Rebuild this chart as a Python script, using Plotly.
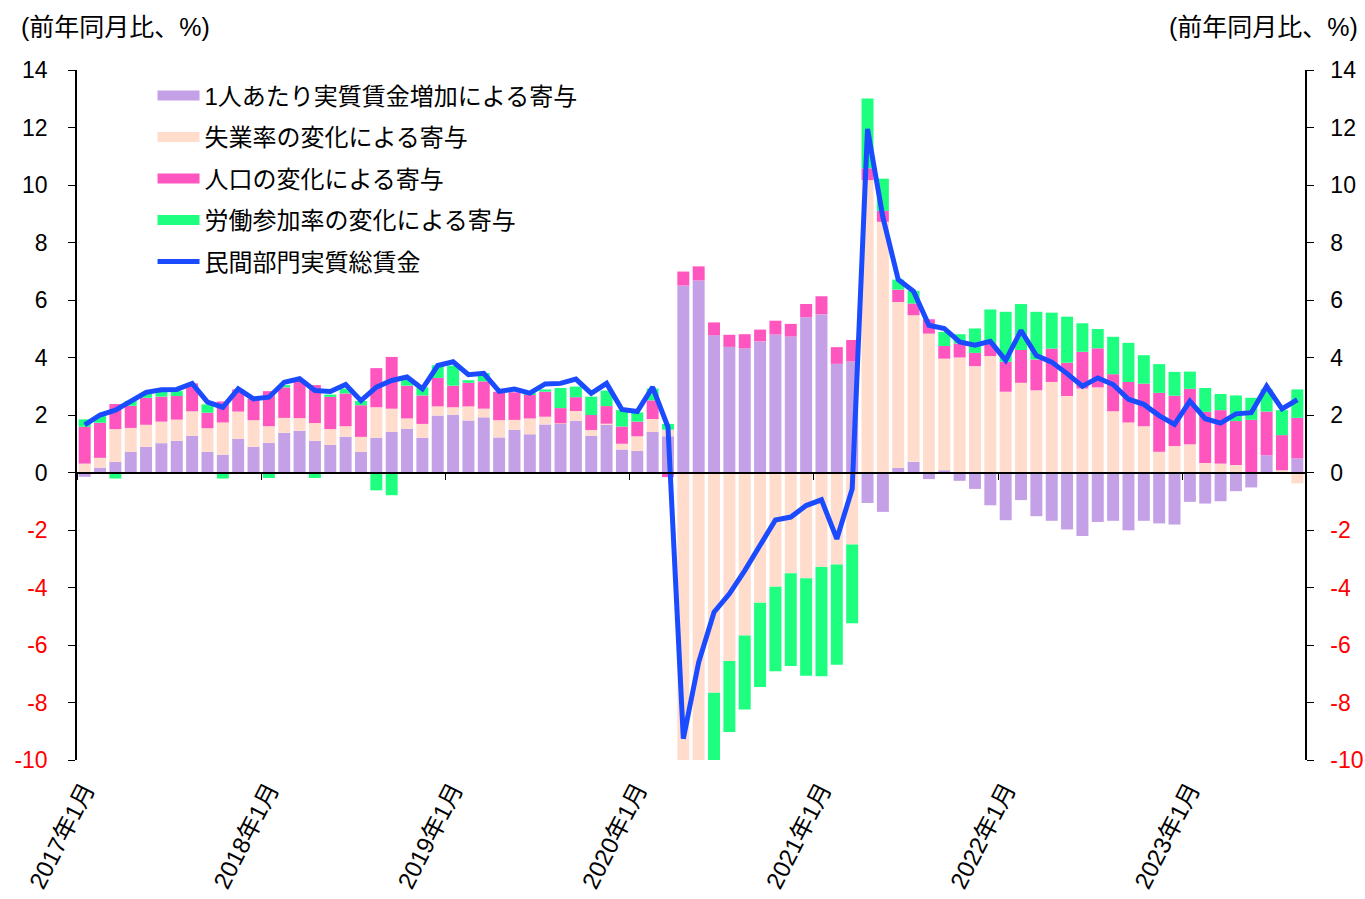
import plotly.graph_objects as go

# ---- categories (monthly, 2017-01 .. 2023-08) ----
months = [f"{2017 + i // 12}年{i % 12 + 1}月" for i in range(80)]
tick_labels = ["2017年1月", "2018年1月", "2019年1月", "2020年1月",
               "2021年1月", "2022年1月", "2023年1月"]

# ---- series values (% points, y/y) ----
per_capita_wage = [
    -0.15, 0.17, 0.37, 0.72, 0.89, 1.02, 1.10, 1.28, 0.72, 0.62, 1.17, 0.89,
    1.03, 1.38, 1.45, 1.10, 0.96, 1.24, 0.72, 1.21, 1.41, 1.52, 1.21, 1.98,
    2.01, 1.81, 1.92, 1.22, 1.48, 1.33, 1.67, 1.69, 1.80, 1.28, 1.67, 0.80,
    0.75, 1.41, 1.26, 6.50, 6.68, 4.77, 4.37, 4.32, 4.56, 4.80, 4.73, 5.40,
    5.50, 3.78, 3.86, -1.06, -1.37, 0.16, 0.37, -0.23, 0.08, -0.29, -0.57, -1.14,
    -1.66, -0.96, -1.52, -1.68, -1.98, -2.21, -1.72, -1.68, -2.01, -1.68, -1.77, -1.81,
    -1.02, -1.08, -1.00, -0.65, -0.52, 0.60, 0.00, 0.49]
unemployment = [
    0.31, 0.34, 1.14, 0.83, 0.77, 0.75, 0.74, 0.85, 0.82, 1.12, 0.95, 0.93,
    0.58, 0.52, 0.44, 0.62, 0.55, 0.37, 0.52, 1.06, 0.81, 0.36, 0.48, 0.32,
    0.26, 0.49, 0.30, 0.60, 0.35, 0.55, 0.27, 0.02, 0.34, 0.20, 0.03, 0.20,
    0.51, 0.45, 0.23, -13.50, -11.00, -7.66, -6.56, -5.67, -4.53, -3.97, -3.50, -3.68,
    -3.29, -3.20, -2.50, 10.17, 8.72, 5.77, 5.10, 4.83, 3.88, 4.00, 3.70, 4.05,
    2.81, 3.12, 2.86, 3.15, 2.66, 2.92, 2.96, 2.13, 1.74, 1.61, 0.72, 0.92,
    0.98, 0.33, 0.31, 0.26, 0.00, 0.00, 0.08, -0.38]
population = [
    1.28, 1.22, 0.87, 0.77, 0.94, 0.87, 0.82, 0.97, 0.54, 0.73, 0.77, 0.75,
    1.22, 1.06, 1.32, 1.32, 1.12, 1.14, 1.10, 1.36, 1.80, 1.14, 0.99, 0.99,
    0.75, 0.82, 0.95, 0.99, 0.96, 0.83, 0.87, 0.53, 0.48, 0.52, 0.61, 0.60,
    0.51, 0.65, -0.16, 0.49, 0.49, 0.45, 0.42, 0.49, 0.41, 0.48, 0.44, 0.46,
    0.63, 0.58, 0.75, 0.41, 0.38, 0.43, 0.41, 0.50, 0.44, 0.49, 0.46, 0.44,
    1.04, 1.14, 1.07, 1.16, 1.16, 1.28, 1.36, 1.29, 1.41, 1.48, 2.05, 1.75,
    1.93, 1.78, 1.86, 1.53, 1.83, 1.52, 1.22, 1.41]
participation = [
    0.26, 0.23, -0.21, 0.17, 0.15, 0.16, 0.17, 0.00, 0.29, -0.21, 0.00, 0.00,
    -0.19, 0.08, 0.00, -0.19, 0.08, 0.17, 0.15, -0.62, -0.79, 0.20, 0.28, 0.44,
    0.70, 0.09, 0.29, 0.00, 0.00, 0.05, 0.08, 0.70, 0.37, 0.64, 0.54, 0.57,
    0.32, 0.41, 0.20, -2.70, -2.80, -2.42, -2.47, -2.57, -2.93, -2.94, -3.23, -3.39,
    -3.80, -3.49, -2.74, 2.43, 1.12, 0.35, 0.44, 0.00, 0.49, 0.32, 0.85, 1.18,
    1.74, 1.60, 1.66, 1.25, 1.60, 0.99, 0.67, 1.30, 1.36, 0.99, 1.00, 0.83,
    0.60, 0.83, 0.56, 0.89, 0.77, 0.78, 0.87, 0.99]
total_wage = [
    1.66, 2.00, 2.17, 2.50, 2.79, 2.88, 2.89, 3.10, 2.45, 2.27, 2.91, 2.56,
    2.62, 3.14, 3.26, 2.85, 2.82, 3.06, 2.50, 2.97, 3.20, 3.32, 2.91, 3.72,
    3.85, 3.40, 3.45, 2.82, 2.90, 2.76, 3.08, 3.10, 3.25, 2.75, 3.10, 2.19,
    2.12, 2.97, 1.58, -9.26, -6.60, -4.86, -4.22, -3.41, -2.54, -1.65, -1.55, -1.15,
    -0.95, -2.31, -0.57, 11.95, 8.88, 6.71, 6.30, 5.12, 5.01, 4.54, 4.43, 4.56,
    3.90, 4.94, 4.07, 3.84, 3.44, 3.00, 3.29, 3.06, 2.55, 2.37, 1.98, 1.67,
    2.48, 1.87, 1.72, 2.04, 2.08, 3.00, 2.21, 2.53]

series_names = ["1人あたり実質賃金増加による寄与", "失業率の変化による寄与",
                "人口の変化による寄与", "労働参加率の変化による寄与"]
line_name = "民間部門実質総賃金"
y_ticks = list(range(-10, 15, 2))
axis_title = "(前年同月比、%)"

# ---- styling ----
colors = ["#C4A0E6", "#FFDCCC", "#FF55BE", "#1EFF80"]
line_color = "#1A4BFF"
FONT = "Arial, 'Liberation Sans', 'Noto Sans CJK JP', sans-serif"

x = list(range(len(months)))
labelpos = [months.index(t) for t in tick_labels]          # January bar
tickpos = [months.index(t) - 0.5 for t in tick_labels]     # boundary before January
ytext = [(f'<span style="color:#FF0000">{v}</span>' if v < 0 else str(v)) for v in y_ticks]

fig = go.Figure()
for vals, c, n in zip([per_capita_wage, unemployment, population, participation], colors, series_names):
    fig.add_trace(go.Bar(x=x, y=vals, marker=dict(color=c, line=dict(width=0)),
                         width=0.78, name=n, showlegend=False, hovertext=months))
# legend swatches (wide rectangles like the original)
for i, (c, n) in enumerate(zip(colors, series_names)):
    fig.add_trace(go.Scatter(x=[None], y=[None], mode="lines", line=dict(color=c, width=16),
                             name=n, legendgroup=f"g{i}", showlegend=True))
fig.add_trace(go.Scatter(x=x, y=total_wage, mode="lines", line=dict(color=line_color, width=5),
                         name=line_name, legendgroup="g9", xaxis="x2", yaxis="y2",
                         hovertext=months))

axis_common = dict(range=[-10, 14], tickvals=y_ticks, ticktext=ytext, ticks="outside",
                   ticklen=7, tickcolor="black", showline=True, linecolor="black",
                   linewidth=1.5, showgrid=False, zeroline=False, automargin=False,
                   tickfont=dict(size=23, color="black", family=FONT))

fig.update_layout(
    width=1365, height=899,
    margin=dict(l=77, r=60, t=70, b=139, autoexpand=False),
    paper_bgcolor="white", plot_bgcolor="white",
    barmode="relative", bargap=0.22,
    font=dict(family=FONT, size=22, color="black"),
    xaxis=dict(range=[-0.5, 79.5], tickvals=labelpos, ticktext=tick_labels, tickangle=-63,
               showline=False, ticks="", showgrid=False, zeroline=False, automargin=False,
               ticklabelstandoff=10, tickfont=dict(size=24, family=FONT)),
    xaxis2=dict(overlaying="x", matches="x", anchor="free", position=10 / 24,
                showline=True, linecolor="black", linewidth=1.5, ticks="outside",
                ticklen=7, tickcolor="black", tickvals=tickpos, showticklabels=False,
                showgrid=False, zeroline=False, automargin=False),
    yaxis=dict(**axis_common, ticklabelstandoff=16),
    yaxis2=dict(**axis_common, overlaying="y", matches="y", side="right", anchor="x",
                ticklabelstandoff=12),
    legend=dict(x=0.0615, y=0.995, xanchor="left", yanchor="top", bgcolor="rgba(0,0,0,0)",
                font=dict(size=24, family=FONT), itemwidth=42, tracegroupgap=7.3,
                traceorder="grouped"),
    annotations=[
        dict(text=axis_title, xref="paper", yref="paper", x=-0.047, y=1.062,
             xanchor="left", yanchor="middle", showarrow=False, font=dict(size=25)),
        dict(text=axis_title, xref="paper", yref="paper", x=1.045, y=1.062,
             xanchor="right", yanchor="middle", showarrow=False, font=dict(size=25)),
    ],
)

fig.write_html("out.html")
